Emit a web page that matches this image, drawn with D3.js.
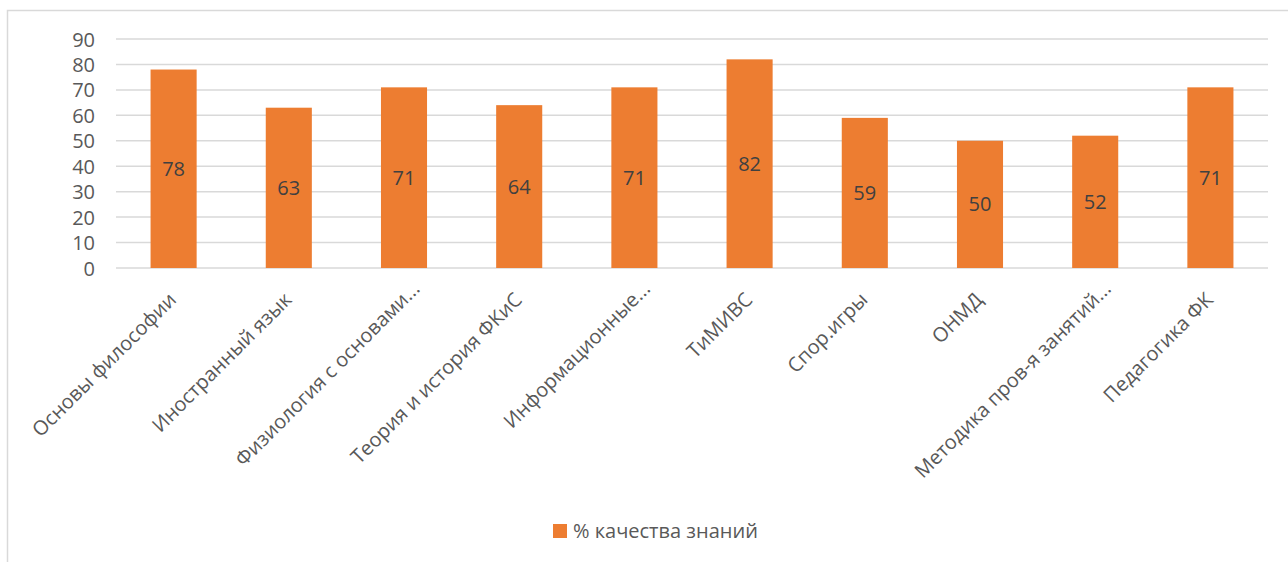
<!DOCTYPE html>
<html><head><meta charset="utf-8">
<script src="https://cdn.jsdelivr.net/npm/d3@7"></script>
<style>body{margin:0;background:#fff}svg{display:block}</style>
</head><body>
<svg id="c" width="1288" height="562"></svg>
<script>
const categories = ["Основы философии","Иностранный язык","Физиология с основами...","Теория и история ФКиС","Информационные...","ТиМИВС","Спор.игры","ОНМД","Методика пров-я занятий...","Педагогика ФК"];
const values = [78,63,71,64,71,82,59,50,52,71];
const yTicks = [0,10,20,30,40,50,60,70,80,90];
const seriesName = "% качества знаний";

const svg = d3.select("#c");
const font = "'Open Sans', sans-serif";
// chart border
svg.append("rect").attr("x",7.5).attr("y",10.5).attr("width",1290).attr("height",560)
  .attr("fill","none").attr("stroke","#d9d9d9").attr("stroke-width",1.5);

const x = d3.scaleBand().domain(categories).range([116,1268]).paddingInner(0.6).paddingOuter(0.3);
const y = d3.scaleLinear().domain([0,90]).range([268,39]);

const g = svg.append("g");
g.selectAll("line.grid").data(yTicks).join("line").attr("class","grid")
  .attr("x1",116).attr("x2",1268).attr("y1",d=>y(d)).attr("y2",d=>y(d))
  .attr("stroke","#d9d9d9").attr("stroke-width",1.5);

const yAxis = svg.append("g").attr("transform","translate(95,0)")
  .call(d3.axisLeft(y).tickValues(yTicks).tickSize(0).tickPadding(0));
yAxis.select(".domain").remove();
yAxis.selectAll("text").attr("font-family",font).attr("font-size",20).attr("fill","#595959").attr("dy","0.35em");

g.selectAll("rect.bar").data(values).join("rect").attr("class","bar")
  .attr("x",(d,i)=>x(categories[i])).attr("width",x.bandwidth())
  .attr("y",d=>y(d)).attr("height",d=>y(0)-y(d)).attr("fill","#ed7d31");

g.selectAll("text.val").data(values).join("text").attr("class","val")
  .attr("x",(d,i)=>x(categories[i])+x.bandwidth()/2)
  .attr("y",d=>(y(d)+y(0))/2).attr("dy","0.35em").attr("text-anchor","middle")
  .attr("font-family",font).attr("font-size",20).attr("fill","#404040").text(d=>d);

g.selectAll("text.cat").data(categories).join("text").attr("class","cat")
  .attr("transform",d=>{
    const cx = x(d)+x.bandwidth()/2;
    const trunc = d.endsWith("...");
    return `translate(${cx+(trunc?17:4)},${trunc?290:301}) rotate(-45)`;
  })
  .attr("text-anchor","end")
  .attr("font-family",font).attr("font-size",20).attr("fill","#595959").text(d=>d);

// legend
const lg = svg.append("g");
lg.append("rect").attr("x",553).attr("y",524).attr("width",14).attr("height",14).attr("fill","#ed7d31");
lg.append("text").attr("x",573).attr("y",531).attr("dy","0.35em").attr("font-family",font).attr("font-size",20)
  .attr("fill","#595959").text(seriesName);
</script>
</body></html>
